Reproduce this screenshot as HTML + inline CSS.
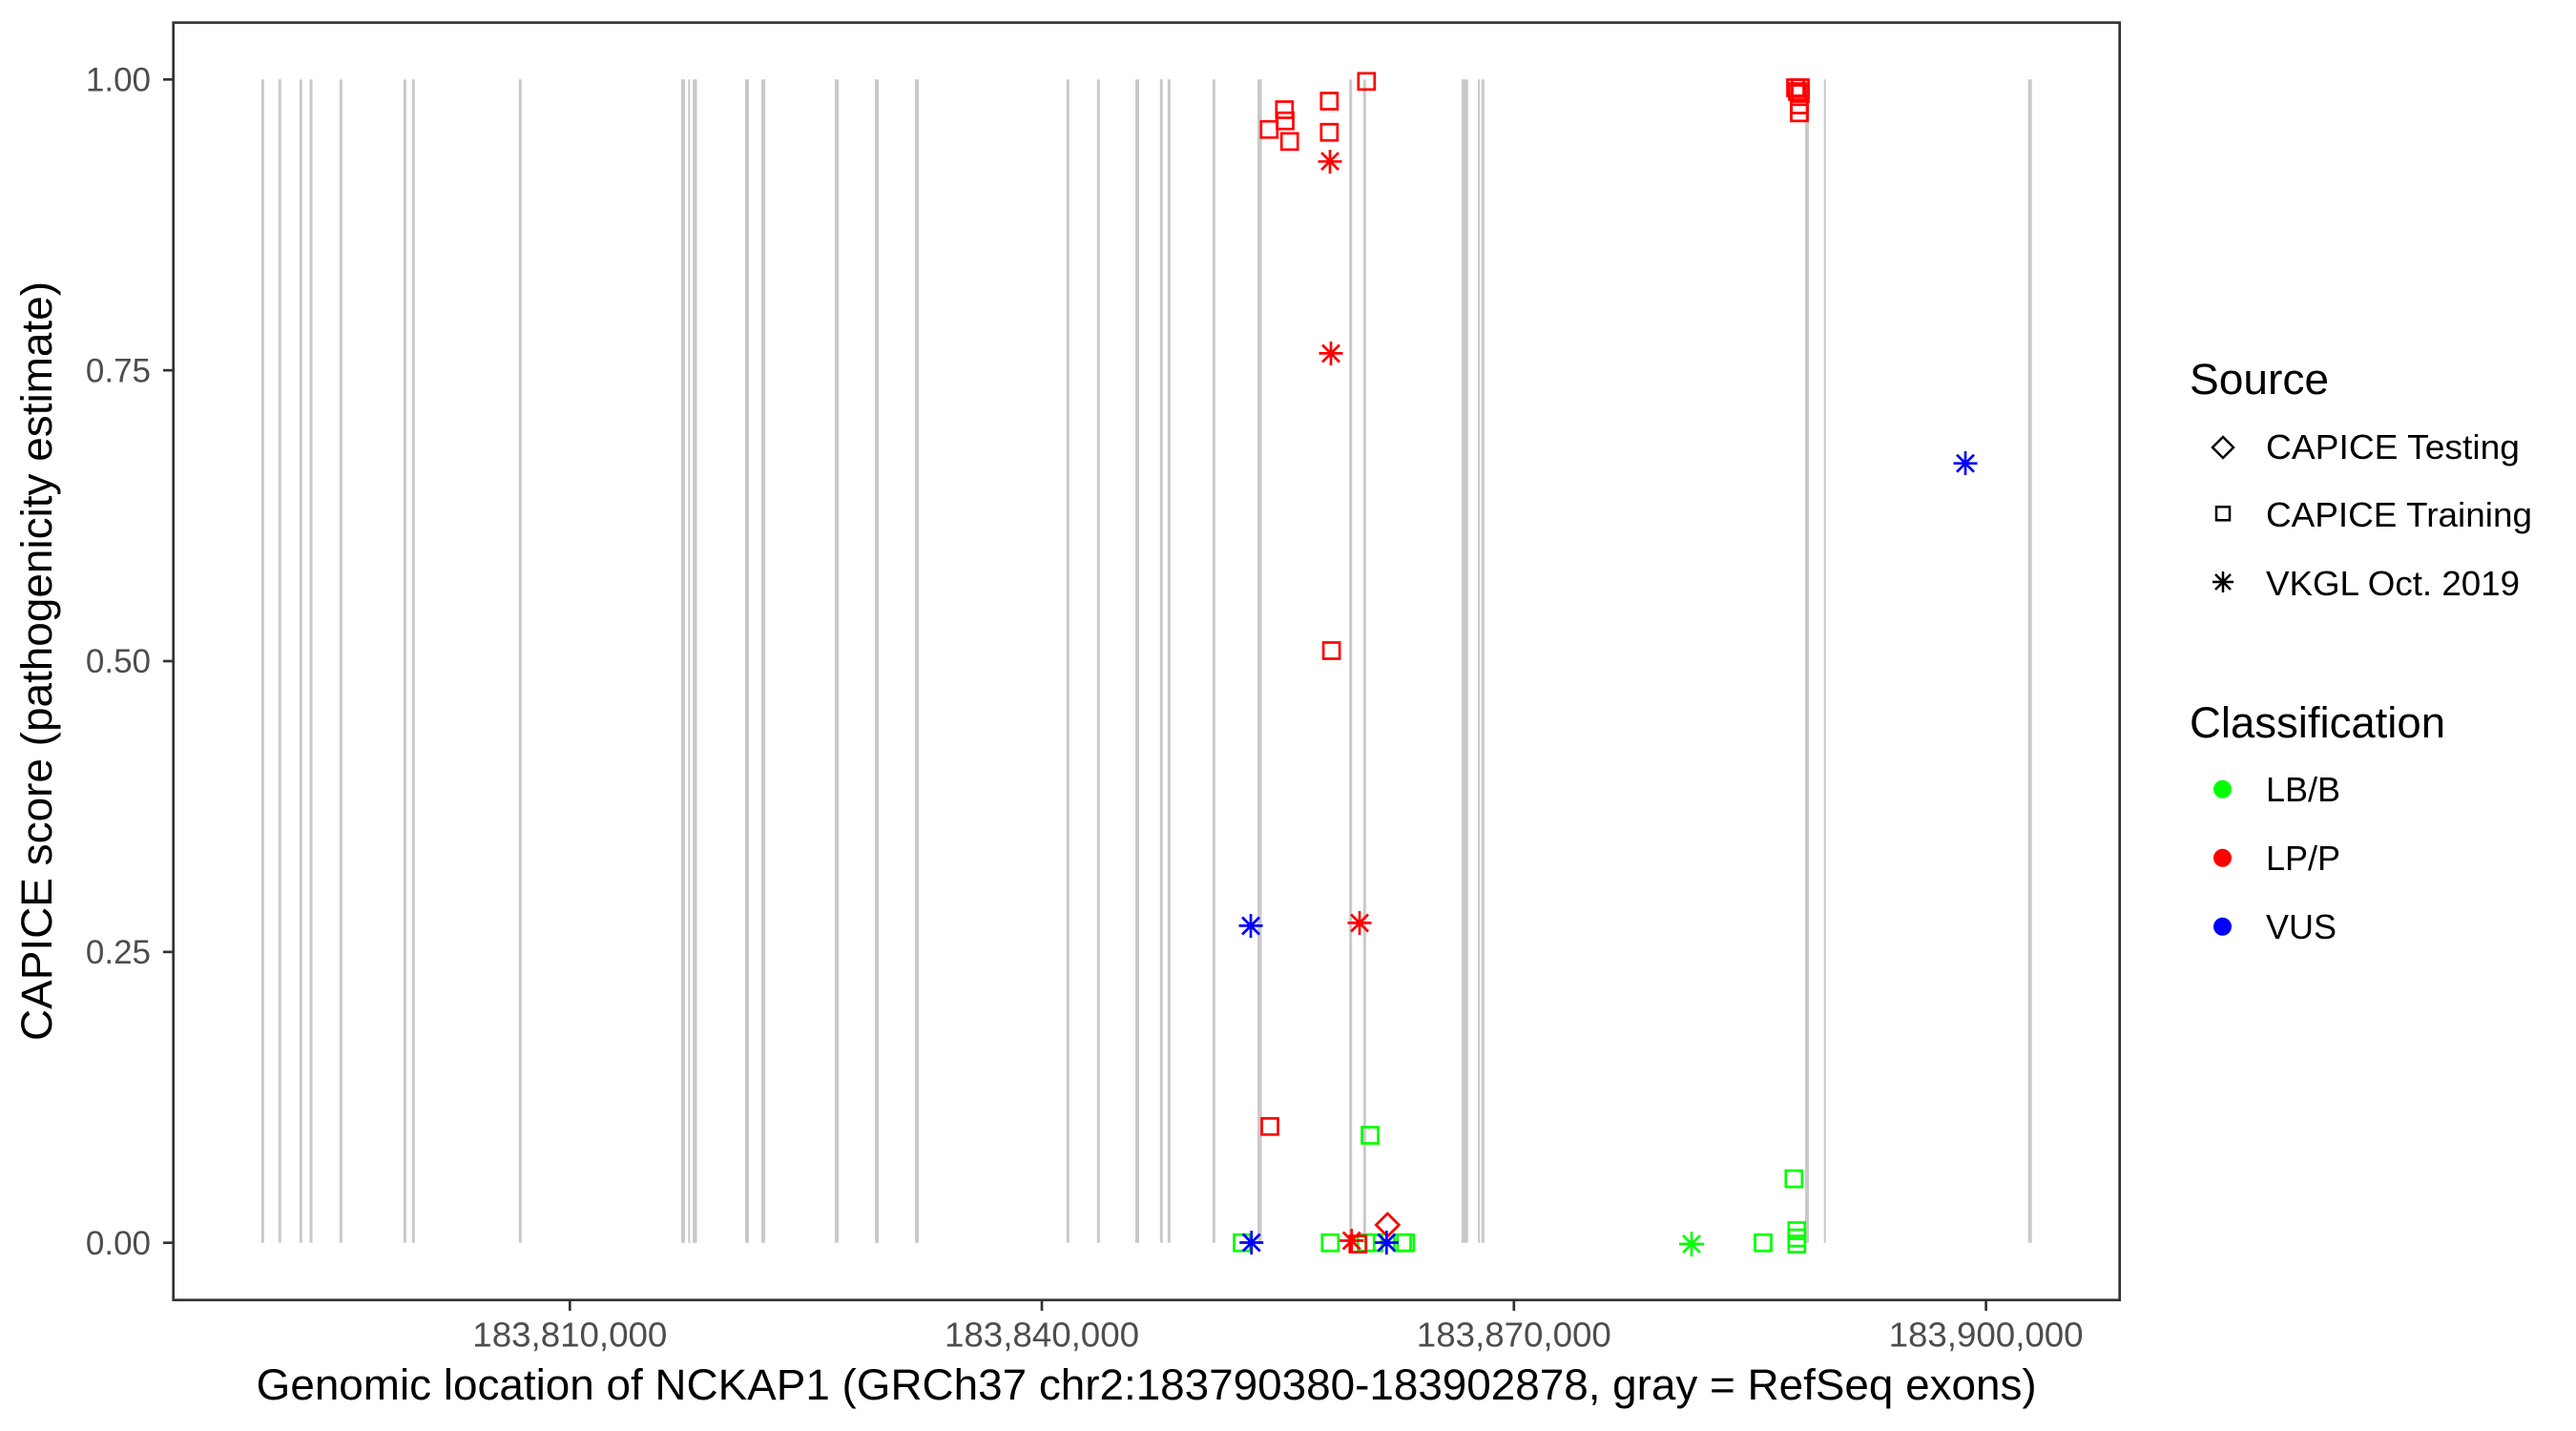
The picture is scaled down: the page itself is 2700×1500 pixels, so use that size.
<!DOCTYPE html>
<html><head><meta charset="utf-8"><style>html,body{margin:0;padding:0;background:#fff;}svg{display:block;}</style></head>
<body>
<svg xmlns="http://www.w3.org/2000/svg" width="2700" height="1500" viewBox="0 0 2700 1500" font-family="Liberation Sans, Arial, sans-serif">
<defs>
<symbol id="sq" overflow="visible"><rect x="-8.5" y="-8.5" width="17" height="17" fill="none" stroke-width="2.7"/></symbol>
</defs>
<rect width="2700" height="1500" fill="#fff"/>
<g stroke="#c9c9c9" stroke-width="3">
<line x1="275.3" x2="275.3" y1="83.3" y2="1302.7"/>
<line x1="293.3" x2="293.3" y1="83.3" y2="1302.7"/>
<line x1="315.3" x2="315.3" y1="83.3" y2="1302.7"/>
<line x1="326" x2="326" y1="83.3" y2="1302.7"/>
<line x1="357.3" x2="357.3" y1="83.3" y2="1302.7"/>
<line x1="424.3" x2="424.3" y1="83.3" y2="1302.7"/>
<line x1="433.3" x2="433.3" y1="83.3" y2="1302.7"/>
<line x1="545.3" x2="545.3" y1="83.3" y2="1302.7"/>
<line x1="716" x2="716" y1="83.3" y2="1302.7" stroke-width="4"/>
<line x1="722.3" x2="722.3" y1="83.3" y2="1302.7" stroke-width="2"/>
<line x1="728.3" x2="728.3" y1="83.3" y2="1302.7" stroke-width="4.5"/>
<line x1="783" x2="783" y1="83.3" y2="1302.7" stroke-width="4"/>
<line x1="800" x2="800" y1="83.3" y2="1302.7" stroke-width="4"/>
<line x1="877" x2="877" y1="83.3" y2="1302.7" stroke-width="4"/>
<line x1="919" x2="919" y1="83.3" y2="1302.7" stroke-width="4"/>
<line x1="961" x2="961" y1="83.3" y2="1302.7" stroke-width="4"/>
<line x1="1119.3" x2="1119.3" y1="83.3" y2="1302.7"/>
<line x1="1151.3" x2="1151.3" y1="83.3" y2="1302.7"/>
<line x1="1192" x2="1192" y1="83.3" y2="1302.7" stroke-width="4"/>
<line x1="1217.3" x2="1217.3" y1="83.3" y2="1302.7"/>
<line x1="1225.3" x2="1225.3" y1="83.3" y2="1302.7"/>
<line x1="1272.3" x2="1272.3" y1="83.3" y2="1302.7"/>
<line x1="1320.3" x2="1320.3" y1="83.3" y2="1302.7" stroke-width="4.5"/>
<line x1="1415.7" x2="1415.7" y1="83.3" y2="1302.7"/>
<line x1="1430.3" x2="1430.3" y1="83.3" y2="1302.7"/>
<line x1="1535.3" x2="1535.3" y1="83.3" y2="1302.7" stroke-width="7"/>
<line x1="1550" x2="1550" y1="83.3" y2="1302.7" stroke-width="2"/>
<line x1="1554.3" x2="1554.3" y1="83.3" y2="1302.7"/>
<line x1="1894" x2="1894" y1="83.3" y2="1302.7" stroke-width="4"/>
<line x1="1912.7" x2="1912.7" y1="83.3" y2="1302.7" stroke-width="2"/>
<line x1="2127.7" x2="2127.7" y1="83.3" y2="1302.7" stroke-width="4"/>
</g>
<g stroke="#00ff00" fill="none" stroke-width="2.7">
<use href="#sq" x="1302" y="1302.7"/>
<use href="#sq" x="1394.3" y="1302.7"/>
<use href="#sq" x="1431.7" y="1302.7"/>
<use href="#sq" x="1440" y="1302.7"/>
<use href="#sq" x="1470" y="1302.7"/>
<use href="#sq" x="1473.3" y="1302.7"/>
<use href="#sq" x="1436" y="1190"/>
<use href="#sq" x="1848" y="1302.7"/>
<use href="#sq" x="1883.3" y="1290"/>
<use href="#sq" x="1883.3" y="1297.6"/>
<use href="#sq" x="1883.3" y="1304"/>
<use href="#sq" x="1880.3" y="1235.6"/>
<path d="M1773 1291v26M1760 1304h26M1764 1295l18 18M1764 1313l18-18"/>
</g>
<g stroke="#ff0000" fill="none" stroke-width="2.7">
<use href="#sq" x="1432.3" y="85.3"/>
<use href="#sq" x="1393.3" y="106"/>
<use href="#sq" x="1393.3" y="138.7"/>
<use href="#sq" x="1346.3" y="115"/>
<use href="#sq" x="1347" y="126.7"/>
<use href="#sq" x="1330.3" y="135.7"/>
<use href="#sq" x="1351.7" y="148.3"/>
<use href="#sq" x="1882" y="92"/>
<use href="#sq" x="1887" y="92"/>
<use href="#sq" x="1884" y="96"/>
<use href="#sq" x="1887" y="98"/>
<use href="#sq" x="1886" y="110"/>
<use href="#sq" x="1886" y="118.3"/>
<use href="#sq" x="1395.6" y="682"/>
<use href="#sq" x="1331" y="1180.8"/>
<use href="#sq" x="1423.3" y="1304"/>
<path d="M1394 157v25M1381.5 169.3h25M1385 160l18 18M1385 178l18-18"/>
<path d="M1395 358v25M1382.5 370.4h25M1386 361.5l18 18M1386 379.5l18-18"/>
<path d="M1425 955v25M1412.5 967.4h25M1416 958.5l18 18M1416 976.5l18-18"/>
<path d="M1416.7 1288v25M1404.2 1300.5h25M1407.7 1291.5l18 18M1407.7 1309.5l18-18"/>
<path d="M1454.3 1272l12 12-12 12-12-12z"/>
</g>
<g stroke="#0000ff" fill="none" stroke-width="2.7">
<path d="M1311 958v25M1298.5 970.4h25M1302 961.5l18 18M1302 979.5l18-18"/>
<path d="M1311.7 1290v25M1299.2 1302.5h25M1302.7 1293.5l18 18M1302.7 1311.5l18-18"/>
<path d="M1453.3 1290v25M1440.8 1302.5h25M1444.3 1293.5l18 18M1444.3 1311.5l18-18"/>
<path d="M2060 473v25M2047.5 485.7h25M2051 476.7l18 18M2051 494.7l18-18"/>
</g>
<rect x="181.7" y="23.7" width="2040" height="1339" fill="none" stroke="#333" stroke-width="2.7"/>
<g stroke="#333" stroke-width="2.7">
<line x1="171" x2="181.7" y1="83.3" y2="83.3"/>
<line x1="171" x2="181.7" y1="388.15" y2="388.15"/>
<line x1="171" x2="181.7" y1="693" y2="693"/>
<line x1="171" x2="181.7" y1="997.85" y2="997.85"/>
<line x1="171" x2="181.7" y1="1302.7" y2="1302.7"/>
<line x1="597.3" x2="597.3" y1="1363" y2="1374"/>
<line x1="1092" x2="1092" y1="1363" y2="1374"/>
<line x1="1586.8" x2="1586.8" y1="1363" y2="1374"/>
<line x1="2081.6" x2="2081.6" y1="1363" y2="1374"/>
</g>
<g fill="#4d4d4d" font-size="35" text-anchor="end">
<text x="158" y="95.5">1.00</text>
<text x="158" y="400.3">0.75</text>
<text x="158" y="705.2">0.50</text>
<text x="158" y="1010">0.25</text>
<text x="158" y="1314.9">0.00</text>
</g>
<g fill="#4d4d4d" font-size="36" text-anchor="middle">
<text x="597.3" y="1411.5" textLength="204" lengthAdjust="spacingAndGlyphs">183,810,000</text>
<text x="1092" y="1411.5" textLength="204" lengthAdjust="spacingAndGlyphs">183,840,000</text>
<text x="1586.8" y="1411.5" textLength="204" lengthAdjust="spacingAndGlyphs">183,870,000</text>
<text x="2081.6" y="1411.5" textLength="204" lengthAdjust="spacingAndGlyphs">183,900,000</text>
</g>
<text x="1201.7" y="1467" font-size="45" text-anchor="middle" fill="#000" textLength="1866" lengthAdjust="spacingAndGlyphs">Genomic location of NCKAP1 (GRCh37 chr2:183790380-183902878, gray = RefSeq exons)</text>
<text transform="translate(54,693) rotate(-90)" font-size="45" text-anchor="middle" fill="#000" textLength="796" lengthAdjust="spacingAndGlyphs">CAPICE score (pathogenicity estimate)</text>
<text x="2295" y="413" font-size="45" fill="#000" textLength="146" lengthAdjust="spacingAndGlyphs">Source</text>
<g stroke="#000" fill="none" stroke-width="2.5">
<path d="M2330 458l11 11-11 11-11-11z"/>
<rect x="2323" y="531.3" width="14" height="14"/>
<path d="M2330 599v22M2319 610h22M2322 602l16 16M2322 618l16-16"/>
</g>
<g font-size="36" fill="#000">
<text x="2375" y="481" textLength="266" lengthAdjust="spacingAndGlyphs">CAPICE Testing</text>
<text x="2375" y="552" textLength="279" lengthAdjust="spacingAndGlyphs">CAPICE Training</text>
<text x="2375" y="624" textLength="266" lengthAdjust="spacingAndGlyphs">VKGL Oct. 2019</text>
</g>
<text x="2295" y="773" font-size="45" fill="#000" textLength="268" lengthAdjust="spacingAndGlyphs">Classification</text>
<circle cx="2329.5" cy="827.3" r="9.5" fill="#00ff00"/>
<circle cx="2329.5" cy="899.3" r="9.5" fill="#ff0000"/>
<circle cx="2329.5" cy="971.3" r="9.5" fill="#0000ff"/>
<g font-size="36" fill="#000">
<text x="2375" y="840" textLength="78" lengthAdjust="spacingAndGlyphs">LB/B</text>
<text x="2375" y="912" textLength="78" lengthAdjust="spacingAndGlyphs">LP/P</text>
<text x="2375" y="984" textLength="74" lengthAdjust="spacingAndGlyphs">VUS</text>
</g>
</svg>
</body></html>
